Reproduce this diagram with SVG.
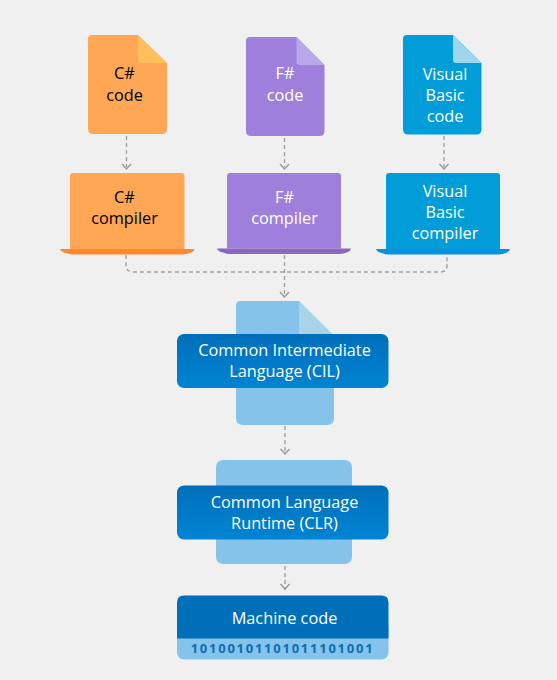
<svg xmlns="http://www.w3.org/2000/svg" width="557" height="680" viewBox="0 0 557 680">
<style>
text{font-family:"Open Sans","Noto Sans","Liberation Sans",sans-serif;font-size:16.300px;font-weight:400;text-anchor:middle}
.w{fill:#fff}.k{fill:#000}
.c{fill:none;stroke:#a0a0a0;stroke-width:1.4;stroke-dasharray:4 3}
.a{fill:none;stroke:#999;stroke-width:1.4}
.o{fill:#ffa755}.p{fill:#9e80dc}.b{fill:#009dd9}.l{fill:#85c3ea}.d{fill:url(#g)}
</style>
<defs><linearGradient id="g" x1="0" y1="0" x2="0" y2="1"><stop offset="0" stop-color="#006fba"/><stop offset="1" stop-color="#0084d3"/></linearGradient></defs>
<rect width="557" height="680" fill="#f0f0f0"/>
<g id="connectors">
<path class="c" d="M126.500 136V167M284.500 138V167M444 136V167"/>
<path class="c" d="M126 255V265Q126 272 133 272H440Q447 272 447 265V255M284.500 255V296"/>
<path class="c" d="M285 426V454M285 566V590"/>
<path class="a" d="M122 164L126.500 169L131 164M280 164L284.500 169L289 164M439.500 164L444 169L448.500 164M280 292L284.500 297L289 292M280.500 449L285 454L289.500 449M280.500 584L285 589L289.500 584"/>
</g>
<g id="csharp-code">
<path class="o" d="M92 35H138L167 63V129Q167 134 162 134H93Q88 134 88 129V39Q88 35 92 35Z"/>
<path fill="#ffc05c" d="M138 35L167 63H141Q138 63 138 60Z"/>
<text class="k" x="124.500" y="79">C#</text><text class="k" x="124.500" y="100.500">code</text>
</g>
<g id="fsharp-code">
<path class="p" d="M250 37H296.500L324.500 65V131Q324.500 136 319.500 136H251Q246 136 246 131V41Q246 37 250 37Z"/>
<path fill="#b9a7ec" d="M296.500 37L324.500 65H299.500Q296.500 65 296.500 62Z"/>
<text class="w" x="285" y="79">F#</text><text class="w" x="285" y="100.500">code</text>
</g>
<g id="vb-code">
<path class="b" d="M407 35H453L481.500 63V129Q481.500 134.500 476.500 134.500H408Q403 134.500 403 129V39Q403 35 407 35Z"/>
<path fill="#a0d5ee" d="M453 35L481.500 63H456Q453 63 453 60Z"/>
<text class="w" x="445" y="79.500">Visual</text><text class="w" x="445" y="100.500">Basic</text><text class="w" x="445" y="121.500">code</text>
</g>
<g id="csharp-compiler">
<path class="o" d="M73 173H181.500Q184.500 173 184.500 176V249H70V176Q70 173 73 173Z"/>
<path fill="#fb8832" d="M60 249H194.500Q194 252 188 253.500Q186 254.500 180 254.500H74Q69 254.500 66 253Q61 252 60 249Z"/>
<text class="k" x="124.500" y="203">C#</text><text class="k" x="124.500" y="224">compiler</text>
</g>
<g id="fsharp-compiler">
<path class="p" d="M230 173H338Q341 173 341 176V248.500H227V176Q227 173 230 173Z"/>
<path fill="#8a68c0" d="M217 248.500H351Q350.500 251.500 345 253Q343 254 337 254H231Q226 254 223 252.500Q218 251.500 217 248.500Z"/>
<text class="w" x="284.500" y="203">F#</text><text class="w" x="284.500" y="224">compiler</text>
</g>
<g id="vb-compiler">
<path class="b" d="M389 173H497Q500 173 500 176V249H386V176Q386 173 389 173Z"/>
<path fill="#0a90e0" d="M376 249H510Q509.500 252 504 253.500Q502 254.500 496 254.500H390Q385 254.500 382 253Q377 252 376 249Z"/>
<text class="w" x="445" y="197">Visual</text><text class="w" x="445" y="218">Basic</text><text class="w" x="445" y="239">compiler</text>
</g>
<g id="cil">
<path class="l" d="M241 301H299L334 336V418Q334 425 327 425H243Q236 425 236 418V306Q236 301 241 301Z"/>
<path fill="#a9d3e9" d="M299 301L334 336H299Z"/>
<rect class="d" x="177" y="334" width="211.500" height="54" rx="7"/>
<text class="w" x="284.500" y="356">Common Intermediate</text><text class="w" x="284.500" y="377">Language (CIL)</text>
</g>
<g id="clr">
<rect class="l" x="216" y="460" width="136" height="104" rx="7"/>
<rect class="d" x="177" y="485.500" width="211.500" height="54" rx="7"/>
<text class="w" x="284.500" y="507.500">Common Language</text><text class="w" x="284.500" y="528.500">Runtime (CLR)</text>
</g>
<g id="machine-code">
<rect class="l" x="177" y="620" width="211.500" height="39.500" rx="7"/>
<path fill="#006fba" d="M184 595.500H381.500Q388.500 595.500 388.500 602.500V638.500H177V602.500Q177 595.500 184 595.500Z"/>
<text class="w" x="284.500" y="624">Machine code</text>
<text x="282.500" y="653" fill="#0a6db5" style="font-size:13px;font-weight:700;letter-spacing:1.750px">10100101101011101001</text>
</g>
</svg>
